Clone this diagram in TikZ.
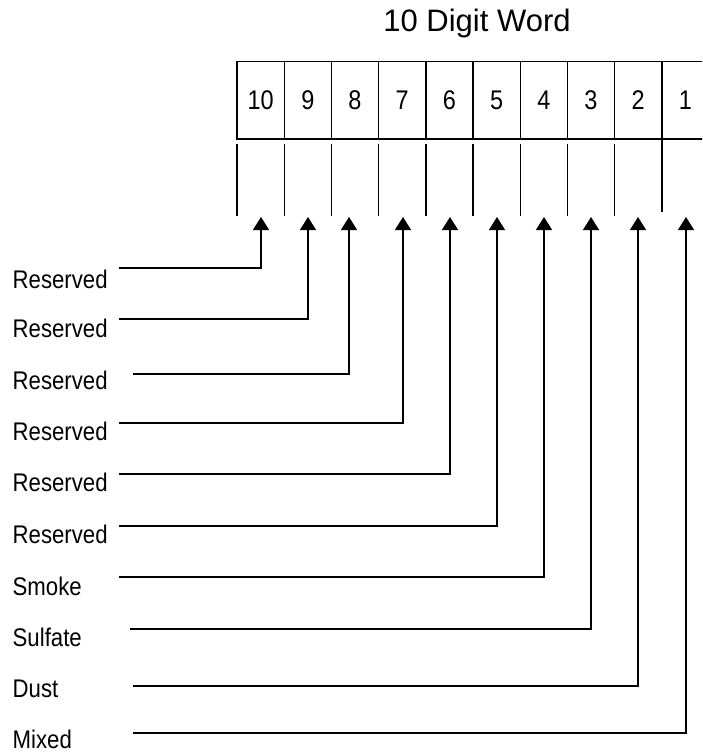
\documentclass[tikz,border=0pt]{standalone}
\usepackage{fontspec}
\setmainfont{Liberation Sans}
\newfontfamily\narrowfont[FakeStretch=0.87]{Liberation Sans}
\usetikzlibrary{positioning, arrows.meta}

\begin{document}
\begin{tikzpicture}[
        x=1pt, y=-1pt, line width=1.4pt,
        cell/.style={draw, outer sep=0pt, inner sep=0pt, minimum width=47.2pt, minimum height=77.3pt, font=\narrowfont\fontsize{27}{27}\selectfont},
        field/.style={anchor=base west, inner sep=0pt, font=\narrowfont\fontsize{25.5}{25.5}\selectfont},
        arrow/.style={-{Triangle[width=16pt, length=13pt]}}
    ]
    \clip (0,0) rectangle (702,754);

    % Title
    \node[anchor=base, font=\fontsize{31}{31}\selectfont] (title) at (477,32) {10 Digit Word};

    % Word cells
    \node[cell, anchor=north west] (c10) at (237,61.7) {10};
    \node[cell, right=0pt of c10] (c9) {9};
    \node[cell, right=0pt of c9] (c8) {8};
    \node[cell, right=0pt of c8] (c7) {7};
    \node[cell, right=0pt of c7] (c6) {6};
    \node[cell, right=0pt of c6] (c5) {5};
    \node[cell, right=0pt of c5] (c4) {4};
    \node[cell, right=0pt of c4] (c3) {3};
    \node[cell, right=0pt of c3] (c2) {2};
    \node[cell, right=0pt of c2] (c1) {1};

    % Ticks under the dividers
    \foreach \c in {c10,c9,c8,c7,c6,c5,c4,c3,c2}
        \draw (\c.south west) ++(0,5) -- ++(0,72);
    \draw (c1.south west) -- ++(0,73);

    % Field names
    \node[field] (f10) at (12,288) {Reserved};
    \node[field] (f9) at (12,337) {Reserved};
    \node[field] (f8) at (12,389) {Reserved};
    \node[field] (f7) at (12,440) {Reserved};
    \node[field] (f6) at (12,491) {Reserved};
    \node[field] (f5) at (12,543) {Reserved};
    \node[field] (f4) at (12,595) {Smoke};
    \node[field] (f3) at (12,646) {Sulfate};
    \node[field] (f2) at (12,697) {Dust};
    \node[field] (f1) at (12,748) {Mixed};

    % Line starts and arrow tips
    \coordinate (s10) at (119,268); \coordinate (t10) at (261,217);
    \coordinate (s9) at (119,319);  \coordinate (t9) at (308,217);
    \coordinate (s8) at (133,374);  \coordinate (t8) at (349,217);
    \coordinate (s7) at (119,423);  \coordinate (t7) at (403,217);
    \coordinate (s6) at (119,474);  \coordinate (t6) at (450,217);
    \coordinate (s5) at (119,526);  \coordinate (t5) at (497,217);
    \coordinate (s4) at (119,577);  \coordinate (t4) at (544,217);
    \coordinate (s3) at (130,629);  \coordinate (t3) at (591,217);
    \coordinate (s2) at (133,686);  \coordinate (t2) at (638,217);
    \coordinate (s1) at (133,733);  \coordinate (t1) at (686,217);

    % Arrows
    \foreach \n in {10,9,...,1}
        \draw[arrow] (s\n) -| (t\n);

\end{tikzpicture}
\end{document}
